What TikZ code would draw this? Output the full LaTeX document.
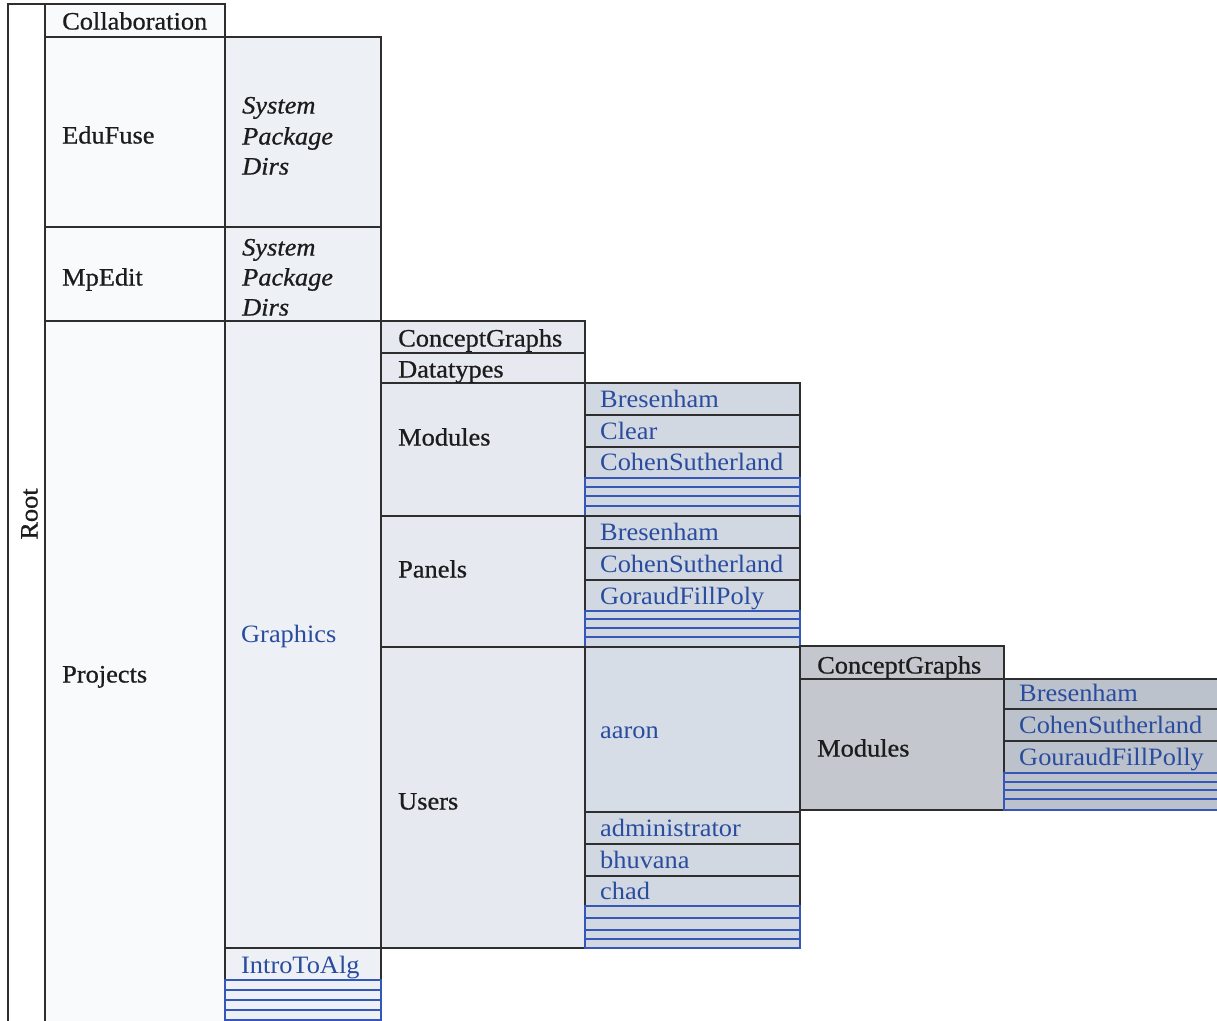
\documentclass[tikz,border=0pt]{standalone}
\usepackage{fontspec}
\setmainfont{Liberation Serif}[FakeStretch=1.055]
\newfontfamily\heavyfont{Liberation Serif}[FakeStretch=1.055, FakeBold=0.7]
\definecolor{edge}{HTML}{2E2E2E}
\definecolor{ink}{HTML}{1C1C1C}
\definecolor{bluetxt}{HTML}{2A4C9E}
\definecolor{bluel}{HTML}{3558B8}
\definecolor{c0}{HTML}{FFFFFF}
\definecolor{c1}{HTML}{F9FAFC}
\definecolor{c2}{HTML}{EDF0F5}
\definecolor{c3}{HTML}{E6E9EF}
\definecolor{c4}{HTML}{D1D8E2}
\definecolor{c4a}{HTML}{D6DDE7}
\definecolor{c5}{HTML}{C4C8CE}
\definecolor{c6}{HTML}{BCC2CC}
\newcommand\mycell[5]{\filldraw[fill=#5, cellline] (#1,#2) rectangle (#3,#4);}
\newcommand\mystripes[6]{%
  \filldraw[fill=#5, stripeline] (#1,#2) rectangle (#3,#4);
  \foreach \yy in {#6} {\draw[stripeline] (#1,\yy) -- (#3,\yy);}}
\begin{document}
\begin{tikzpicture}[x=1pt,y=-1pt,
  cellline/.style={draw=edge, line width=1.4pt},
  stripeline/.style={draw=bluel, line width=1.3pt},
  lbl/.style={anchor=west, inner sep=0pt, text height=15pt, text depth=0pt,
    font=\heavyfont\fontsize{25}{31}\selectfont, text=ink},
  blbl/.style={lbl, font=\fontsize{25}{31}\selectfont, text=bluetxt},
  ilbl/.style={lbl, font=\heavyfont\fontsize{25}{31}\selectfont\itshape}]
\useasboundingbox (0,0) rectangle (1217,1020);
\fill[white] (0,0) rectangle (1217,1020);
\clip (0,0) rectangle (1217,1020);
% level 0 and 1
\mycell{8}{4}{45}{1030}{c0}
\mycell{45}{4}{225}{37}{c1}
\mycell{45}{37}{225}{227}{c1}
\mycell{45}{227}{225}{321}{c1}
\mycell{45}{321}{225}{1030}{c1}
% level 2
\mycell{225}{37}{381}{227}{c2}
\mycell{225}{227}{381}{321}{c2}
\mycell{225}{321}{381}{948}{c2}
\mycell{225}{948}{381}{980}{c2}
\mystripes{225}{980}{381}{1030}{c2}{990,1000,1010,1020}
% level 3
\mycell{381}{321}{585}{353}{c3}
\mycell{381}{353}{585}{383}{c3}
\mycell{381}{383}{585}{516}{c3}
\mycell{381}{516}{585}{647}{c3}
\mycell{381}{647}{585}{948}{c3}
% level 4
\mycell{585}{383}{800}{415}{c4}
\mycell{585}{415}{800}{447}{c4}
\mycell{585}{447}{800}{478}{c4}
\mystripes{585}{478}{800}{516}{c4}{487,496,506}
\mycell{585}{516}{800}{548}{c4}
\mycell{585}{548}{800}{580}{c4}
\mycell{585}{580}{800}{611}{c4}
\mystripes{585}{611}{800}{647}{c4}{619,628,637}
\mycell{585}{647}{800}{812}{c4a}
\mycell{585}{812}{800}{844}{c4}
\mycell{585}{844}{800}{876}{c4}
\mycell{585}{876}{800}{906}{c4}
\mystripes{585}{906}{800}{948}{c4}{918,930,939}
% level 5
\mycell{800}{646}{1004}{679}{c5}
\mycell{800}{679}{1004}{810}{c5}
% level 6
\mycell{1004}{679}{1230}{709}{c6}
\mycell{1004}{709}{1230}{741}{c6}
\mycell{1004}{741}{1230}{773}{c6}
\mystripes{1004}{773}{1230}{810}{c6}{782,790,799}
% labels
\node[lbl, rotate=90, anchor=center] (root) at (30,514) {Root};
\node[lbl] (collab) at (62,22) {Collaboration};
\node[lbl] (edufuse) at (62,136) {EduFuse};
\node[lbl] (mpedit) at (62,278) {MpEdit};
\node[lbl] (projects) at (62,675) {Projects};
\node[ilbl] (sys1) at (242,106) {System};
\node[ilbl] (pkg1) at (242,137) {Package};
\node[ilbl] (dirs1) at (242,167) {Dirs};
\node[ilbl] (sys2) at (242,248) {System};
\node[ilbl] (pkg2) at (242,278) {Package};
\node[ilbl] (dirs2) at (242,308) {Dirs};
\node[blbl] (graphics) at (241,635) {Graphics};
\node[blbl] (intro) at (241,966) {IntroToAlg};
\node[lbl] (cg1) at (398,339) {ConceptGraphs};
\node[lbl] (dt) at (398,370) {Datatypes};
\node[lbl] (mod1) at (398,438) {Modules};
\node[lbl] (panels) at (398,570) {Panels};
\node[lbl] (users) at (398,802) {Users};
\node[blbl] (mbres) at (600,400) {Bresenham};
\node[blbl] (mclear) at (600,432) {Clear};
\node[blbl] (mcohen) at (600,463) {CohenSutherland};
\node[blbl] (pbres) at (600,533) {Bresenham};
\node[blbl] (pcohen) at (600,565) {CohenSutherland};
\node[blbl] (pgor) at (600,597) {GoraudFillPoly};
\node[blbl] (aaron) at (600,731) {aaron};
\node[blbl] (admin) at (600,829) {administrator};
\node[blbl] (bhuvana) at (600,861) {bhuvana};
\node[blbl] (chad) at (600,892) {chad};
\node[lbl] (cg2) at (817,666) {ConceptGraphs};
\node[lbl] (mod2) at (817,749) {Modules};
\node[blbl] (abres) at (1019,694) {Bresenham};
\node[blbl] (acohen) at (1019,726) {CohenSutherland};
\node[blbl] (agour) at (1019,758) {GouraudFillPolly};
\end{tikzpicture}
\end{document}
